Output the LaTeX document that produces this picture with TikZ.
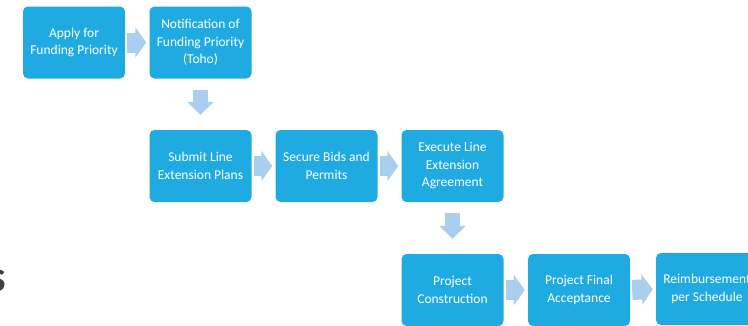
\documentclass[tikz,border=0pt]{standalone}
\usepackage{fontspec}
\setmainfont{Carlito}
\usetikzlibrary{arrows.meta}
\definecolor{boxblue}{RGB}{31,171,226}
\definecolor{arrblue}{RGB}{170,207,238}
\definecolor{titlegrey}{RGB}{64,64,64}
\tikzset{
  stepbox/.style={rectangle, rounded corners=5pt, fill=boxblue, text=white,
    minimum width=102pt, minimum height=72pt, inner sep=0pt, align=center,
    font=\fontsize{13.5}{17.5}\selectfont},
  harrow/.style={draw=arrblue, line width=20pt,
    -{Triangle[length=11pt,width=30pt]}, shorten <=2pt, shorten >=3pt},
  varrow/.style={draw=arrblue, line width=15pt,
    -{Triangle[length=13pt,width=26pt]}, shorten <=11pt, shorten >=15pt}
}
\begin{document}
\begin{tikzpicture}[x=1pt,y=-1pt]
\useasboundingbox (0,0) rectangle (748,325);
\clip (0,0) rectangle (748,325);
% partial title letter
\node[anchor=base east, inner sep=0pt, text=titlegrey, font=\fontsize{44}{44}\selectfont\bfseries] (title) at (6,291) {s};
% row 1
\node[stepbox] (b1) at (74,42.5) {Apply for\\Funding Priority};
\node[stepbox] (b2) at (200.5,42.5) {Notification of\\Funding Priority\\(Toho)};
% row 2
\node[stepbox] (b3) at (200.5,166) {Submit Line\\Extension Plans};
\node[stepbox] (b4) at (326.5,166) {Secure Bids and\\Permits};
\node[stepbox] (b5) at (452.5,166) {Execute Line\\Extension\\Agreement};
% row 3
\node[stepbox] (b6) at (452.5,290) {Project\\Construction};
\node[stepbox] (b7) at (579,290) {Project Final\\Acceptance};
\node[stepbox] (b8) at (707,289) {Reimbursement\\per Schedule};
% arrows
\draw[harrow] (b1.east) -- (b2.west);
\draw[varrow] (b2.south) -- (b3.north);
\draw[harrow] (b3.east) -- (b4.west);
\draw[harrow] (b4.east) -- (b5.west);
\draw[varrow] (b5.south) -- (b6.north);
\draw[harrow] (b6.east) -- (b7.west);
\draw[harrow] (b7.east) -- (b8.west);
\end{tikzpicture}
\end{document}
